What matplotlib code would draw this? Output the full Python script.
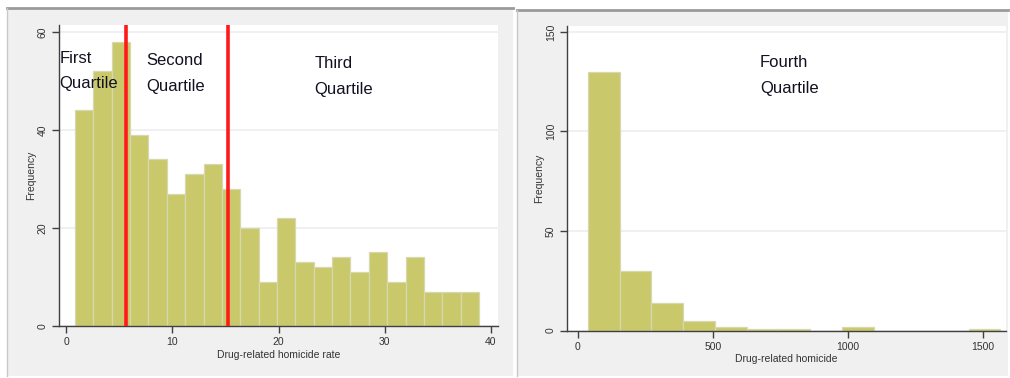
import numpy as np
import matplotlib
matplotlib.use("Agg")
import matplotlib.pyplot as plt
from matplotlib.patches import Rectangle
from matplotlib.lines import Line2D

plt.rcParams['font.family'] = ['Liberation Sans', 'DejaVu Sans']

# Drug-related homicide rate histogram (quartiles 1-3)
rate_counts = [44, 52, 58, 39, 34, 27, 31, 33, 28, 20, 9, 22, 13, 12, 14,
               11, 15, 9, 14, 7, 7, 7]
rate_bin_start = 0.85
rate_bin_width = 1.728
quartile_cuts = [5.63, 15.27]
rate_xticks = [0, 10, 20, 30, 40]
rate_yticks = [0, 20, 40, 60]

# Drug-related homicide count histogram (fourth quartile)
count_counts = [130, 30, 14, 5, 2, 1, 1, 0, 2, 0, 0, 0, 1]
count_bin_start = 37
count_bin_width = 117.5
count_xticks = [0, 500, 1000, 1500]
count_yticks = [0, 50, 100, 150]

W, H = 1010, 378
fig = plt.figure(figsize=(W / 100, H / 100), dpi=100)
fig.patch.set_facecolor('white')


def frac_rect(x0, y0, x1, y1):
    """Pixel box (top-left origin) -> figure-fraction (left, bottom, w, h)."""
    return x0 / W, 1 - y1 / H, (x1 - x0) / W, (y1 - y0) / H


def panel_background(x0, y0, x1, y1):
    l, b, w, h = frac_rect(x0, y0, x1, y1)
    fig.add_artist(Rectangle((l, b), w, h, transform=fig.transFigure,
                             facecolor='#f0f0f0', edgecolor='none', zorder=0))
    # darker rule along the top edge and a faint one on the left
    fig.add_artist(Line2D([l, l + w], [b + h, b + h], transform=fig.transFigure,
                          color='#9a9a9a', lw=2, zorder=1))
    fig.add_artist(Line2D([l, l], [b, b + h], transform=fig.transFigure,
                          color='#c8c8c8', lw=1, zorder=1))


panel_background(7, 8, 513, 376)
panel_background(517, 10, 1008, 376)

BAR_FACE = '#c9c96b'
BAR_EDGE = '#d8d8b0'
AXIS_COL = '#404040'
TEXT_COL = '#333333'


def style_axes(ax, xticks, yticks, xlabel):
    ax.set_facecolor('white')
    for side in ('top', 'right'):
        ax.spines[side].set_visible(False)
    for side in ('left', 'bottom'):
        ax.spines[side].set_color(AXIS_COL)
        ax.spines[side].set_linewidth(1.0)
    ax.set_xticks(xticks)
    ax.set_yticks(yticks)
    ax.tick_params(direction='out', length=5, width=1, color=AXIS_COL,
                   labelsize=7.5, labelcolor=TEXT_COL, pad=3)
    for lab in ax.get_yticklabels():
        lab.set_rotation(90)
        lab.set_va('center')
    ax.grid(axis='y', color='#eeeeee', lw=1.2, zorder=0)
    ax.set_axisbelow(True)
    ax.set_xlabel(xlabel, fontsize=7.5, color=TEXT_COL, labelpad=2)
    ax.set_ylabel('Frequency', fontsize=7.5, color=TEXT_COL, labelpad=1)


def draw_hist(ax, counts, start, width):
    edges = start + width * np.arange(len(counts))
    ax.bar(edges, counts, width=width, align='edge', color=BAR_FACE,
           edgecolor=BAR_EDGE, linewidth=0.9, zorder=2)


# Left panel
axL = fig.add_axes(frac_rect(59, 25, 498, 326))
draw_hist(axL, rate_counts, rate_bin_start, rate_bin_width)
style_axes(axL, rate_xticks, rate_yticks, 'Drug-related homicide rate')
axL.set_xlim(-0.66, 40.66)
axL.set_ylim(0, 61.4)
for cut in quartile_cuts:
    axL.axvline(cut, color='#ff1a1a', lw=2.6, zorder=3)

label_kw = dict(fontsize=12, color='#111122', va='baseline', ha='left', zorder=4)
axL.text(-0.63, 53.7, 'First', **label_kw)
axL.text(-0.63, 48.5, 'Quartile', **label_kw)
axL.text(7.58, 53.3, 'Second', **label_kw)
axL.text(7.58, 48.0, 'Quartile', **label_kw)
axL.text(23.4, 52.6, 'Third', **label_kw)
axL.text(23.4, 47.3, 'Quartile', **label_kw)

# Right panel
axR = fig.add_axes(frac_rect(567, 26, 1006, 330.5))
draw_hist(axR, count_counts, count_bin_start, count_bin_width)
style_axes(axR, count_xticks, count_yticks, 'Drug-related homicide')
axR.set_xlim(-40.7, 1585)
axR.set_ylim(0, 153)
axR.text(674, 132.6, 'Fourth', **label_kw)
axR.text(674, 119.4, 'Quartile', **label_kw)

fig.savefig('out.png', dpi=100)
